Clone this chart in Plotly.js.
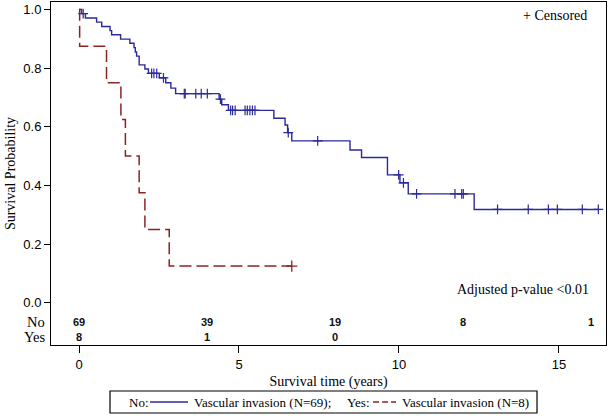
<!DOCTYPE html>
<html>
<head>
<meta charset="utf-8">
<script src="https://cdn.plot.ly/plotly-3.0.1.min.js"></script>
<style>html,body{margin:0;padding:0;background:#fff;}#chart{width:609px;height:418px;}</style>
</head>
<body>
<div id="chart"></div>
<script>
// ---- Data ----
// Group "No" (no vascular invasion, N=69): step times and survival after each step
const noTimes = [0, 0.08, 0.20, 0.55, 0.71, 0.97, 1.02, 1.30, 1.59, 1.72, 1.76, 1.80, 1.88, 2.06, 2.17, 2.51, 2.71, 2.87, 3.02, 4.38, 4.46, 4.67, 6.09, 6.44, 6.52, 6.65, 8.47, 8.83, 9.64, 10.03, 10.29, 12.35, 16.25];
const noSurv  = [1.0, 0.986, 0.971, 0.957, 0.942, 0.928, 0.914, 0.899, 0.885, 0.870, 0.855, 0.841, 0.811, 0.797, 0.782, 0.767, 0.750, 0.732, 0.713, 0.694, 0.675, 0.656, 0.629, 0.606, 0.580, 0.552, 0.521, 0.495, 0.436, 0.409, 0.371, 0.318, 0.318];
const noCensored = [0.13, 2.27, 2.34, 2.43, 2.64, 3.29, 3.32, 3.65, 3.82, 4.01, 4.42, 4.74, 4.80, 4.88, 5.19, 5.26, 5.34, 5.42, 5.50, 6.54, 7.46, 9.99, 10.14, 10.55, 11.75, 11.96, 12.01, 13.08, 14.04, 14.67, 14.95, 15.73, 16.23];

// Group "Yes" (vascular invasion, N=8)
const yesTimes = [0, 0.02, 0.86, 1.31, 1.45, 1.88, 2.06, 2.82, 6.65];
const yesSurv  = [1.0, 0.875, 0.75, 0.625, 0.5, 0.375, 0.25, 0.125, 0.125];
const yesCensored = [6.65];

// Numbers at risk
const riskTimes = [0, 4, 8, 12, 16];
const riskNo  = [69, 39, 19, 8, 1];
const riskYes = [8, 1, 0];

const yTicks = [0, 0.2, 0.4, 0.6, 0.8, 1.0];
const yTickText = ['0.0', '0.2', '0.4', '0.6', '0.8', '1.0'];
const xTicks = [0, 5, 10, 15];

// ---- helpers ----
function survAt(times, surv, t) {
  let s = surv[0];
  for (let i = 0; i < times.length; i++) { if (times[i] <= t) s = surv[i]; }
  return s;
}

const BLUE = '#2a2a9c';
const RED = '#8c2323';
const SERIF = 'Liberation Serif, Times New Roman, serif';
const SANS = 'Liberation Sans, Arial, sans-serif';

const traces = [
  {x: noTimes, y: noSurv, type: 'scatter', mode: 'lines', line: {shape: 'hv', color: BLUE, width: 1.4}},
  {x: noCensored, y: noCensored.map(t => survAt(noTimes, noSurv, t)), type: 'scatter', mode: 'markers',
   marker: {symbol: 'cross-thin', size: 7, line: {color: BLUE, width: 1.2}, color: BLUE}},
  {x: yesTimes, y: yesSurv, type: 'scatter', mode: 'lines', line: {shape: 'hv', color: RED, width: 1.5, dash: '12px,5px'}},
  {x: yesCensored, y: yesCensored.map(t => survAt(yesTimes, yesSurv, t)), type: 'scatter', mode: 'markers',
   marker: {symbol: 'cross-thin', size: 8, line: {color: RED, width: 1.3}, color: RED}}
];

const rowNoY = -0.065, rowYesY = -0.116;
const annotations = [];
function ann(o) { annotations.push(Object.assign({showarrow: false, yanchor: 'middle'}, o)); }
ann({xref: 'paper', yref: 'y', x: 0, y: rowNoY, xanchor: 'right', xshift: -4, text: 'No', font: {family: SERIF, size: 14.5, color: '#000'}});
ann({xref: 'paper', yref: 'y', x: 0, y: rowYesY, xanchor: 'right', xshift: -4, text: 'Yes', font: {family: SERIF, size: 14.5, color: '#000'}});
riskNo.forEach((n, i) => ann({xref: 'x', yref: 'y', x: riskTimes[i], y: rowNoY, text: '<b>' + n + '</b>', font: {family: SANS, size: 11, color: '#111'}}));
riskYes.forEach((n, i) => ann({xref: 'x', yref: 'y', x: riskTimes[i], y: rowYesY, text: '<b>' + n + '</b>', font: {family: SANS, size: 11, color: '#111'}}));
ann({xref: 'paper', yref: 'paper', x: 0.9694, y: 0.962, xanchor: 'right', text: '+ Censored', font: {family: SERIF, size: 14, color: '#000'}});
ann({xref: 'paper', yref: 'paper', x: 0.973, y: 0.163, xanchor: 'right', text: 'Adjusted p-value &lt;0.01', font: {family: SERIF, size: 14, color: '#000'}});

// legend box contents
const legY = -0.1662;
const legFont = {family: SERIF, size: 13, color: '#000'};
ann({xref: 'paper', yref: 'paper', x: 0.1369, y: legY, xanchor: 'left', text: 'No:', font: legFont});
ann({xref: 'paper', yref: 'paper', x: 0.2541, y: legY, xanchor: 'left', text: 'Vascular invasion (N=69);', font: legFont});
ann({xref: 'paper', yref: 'paper', x: 0.5297, y: legY, xanchor: 'left', text: 'Yes:', font: legFont});
ann({xref: 'paper', yref: 'paper', x: 0.6288, y: legY, xanchor: 'left', text: 'Vascular invasion (N=8)', font: legFont});

const shapes = [
  {type: 'rect', xref: 'paper', yref: 'paper', x0: 0.1063, x1: 0.8757, y0: -0.1983, y1: -0.1341, line: {color: '#000', width: 1.2}},
  {type: 'line', xref: 'paper', yref: 'paper', x0: 0.1784, x1: 0.2468, y0: legY, y1: legY, line: {color: BLUE, width: 1.4}},
  {type: 'line', xref: 'paper', yref: 'paper', x0: 0.5802, x1: 0.6216, y0: legY, y1: legY, line: {color: RED, width: 1.5, dash: '6px,3px'}}
];

const layout = {
  width: 609, height: 418,
  margin: {l: 51, r: 3, t: 2, b: 73, pad: 0},
  paper_bgcolor: '#fff', plot_bgcolor: '#fff',
  showlegend: false,
  xaxis: {
    range: [-0.875, 16.47], tickvals: xTicks, ticks: 'outside', ticklen: 7, tickcolor: '#000', tickwidth: 1,
    showline: true, mirror: true, linecolor: '#000', linewidth: 1, showgrid: false, zeroline: false,
    tickfont: {family: SANS, size: 13, color: '#000'},
    title: {text: 'Survival time (years)', font: {family: SERIF, size: 14, color: '#000'}, standoff: 5},
    automargin: false
  },
  yaxis: {
    range: [-0.1443, 1.0256], tickvals: yTicks, ticktext: yTickText, ticks: 'outside', ticklen: 6, tickcolor: '#000', tickwidth: 1,
    showline: true, mirror: true, linecolor: '#000', linewidth: 1, showgrid: false, zeroline: false,
    tickfont: {family: SANS, size: 13, color: '#000'},
    title: {text: 'Survival Probability', font: {family: SERIF, size: 14, color: '#000'}, standoff: 4},
    automargin: false
  },
  annotations: annotations,
  shapes: shapes
};

Plotly.newPlot('chart', traces, layout, {staticPlot: true, displayModeBar: false});
</script>
</body>
</html>
